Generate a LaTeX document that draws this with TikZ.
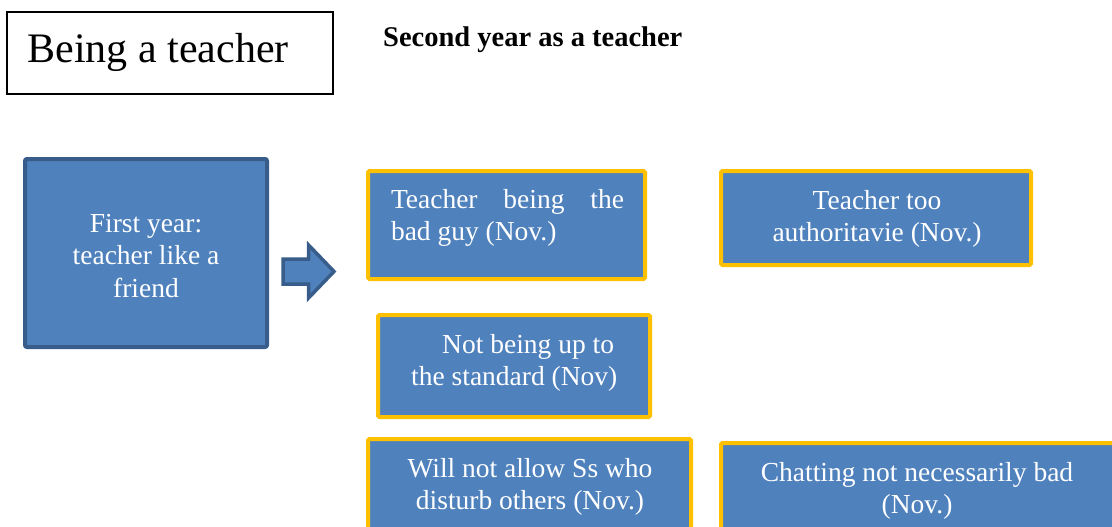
\documentclass[tikz,border=0pt]{standalone}
\usepackage{fontspec}
\setmainfont{Liberation Serif}
\usetikzlibrary{positioning}

\definecolor{boxblue}{HTML}{4F81BD}
\definecolor{boxedge}{HTML}{385D8A}
\definecolor{gold}{HTML}{FFC000}

\tikzset{
  titlebox/.style={draw=black, line width=1.6pt, minimum width=326pt, minimum height=82pt, inner sep=0pt},
  firstbox/.style={fill=boxblue, draw=boxedge, line width=4pt, rounded corners=2pt, inner sep=0pt},
  ideabox/.style={fill=boxblue, draw=gold, line width=4pt, rounded corners=1.5pt, inner sep=0pt},
  ideatext/.style={text=white, inner sep=0pt, font=\fontsize{27.5}{32.5}\selectfont},
  blockarrow/.style={fill=boxblue, draw=boxedge, line width=3.5pt, miter limit=10},
}

\begin{document}
\begin{tikzpicture}[x=1pt, y=-1pt]
  \useasboundingbox (0,0) rectangle (1112,527);
  \fill[white] (0,0) rectangle (1112,527);
  \clip (0,0) rectangle (1112,527);

  % heading
  \node[titlebox] (title) at (170,53) {};
  \node[inner sep=0pt, font=\fontsize{42}{48}\selectfont] (titletxt) at (158,52) {Being a teacher};
  \node[inner sep=0pt, anchor=base west, font=\bfseries\fontsize{28.5}{34}\selectfont] (second) at (383,47) {Second year as a teacher};

  % first year
  \node[firstbox, minimum width=242pt, minimum height=188pt] (first) at (146,253) {};
  \node[ideatext, align=center] (firsttxt) at (146,256)
    {First year:\\teacher like a\\friend};

  % block arrow
  \draw[blockarrow] (283,259) -- (308.5,259) -- (308.5,245) -- (334,271.5)
    -- (308.5,298) -- (308.5,284) -- (283,284) -- cycle;

  % second-year boxes
  \node[ideabox, minimum width=277pt, minimum height=108pt] (bad) at (506.5,225) {};
  \node[ideatext, align=left] (badtxt) at (507.5,218)
    {\makebox[233pt][s]{Teacher being the}\\bad guy (Nov.)};

  \node[ideabox, minimum width=310pt, minimum height=94pt] (auth) at (876,218) {};
  \node[ideatext, align=center] (authtxt) at (877,219)
    {Teacher too\\authoritavie (Nov.)};

  \node[ideabox, minimum width=272pt, minimum height=102pt] (std) at (514,366) {};
  \node[ideatext, align=left, anchor=west] (stdtxt) at (411,363)
    {\hspace*{31pt}Not being up to\\the standard (Nov)};

  \node[ideabox, minimum width=323pt, minimum height=122pt] (allow) at (529.5,500) {};
  \node[ideatext, align=center] (allowtxt) at (530,487)
    {Will not allow Ss who\\disturb others (Nov.)};

  \node[ideabox, minimum width=394pt, minimum height=118pt] (chat) at (918,502) {};
  \node[ideatext, align=center] (chattxt) at (917,491)
    {Chatting not necessarily bad\\(Nov.)};
\end{tikzpicture}
\end{document}
